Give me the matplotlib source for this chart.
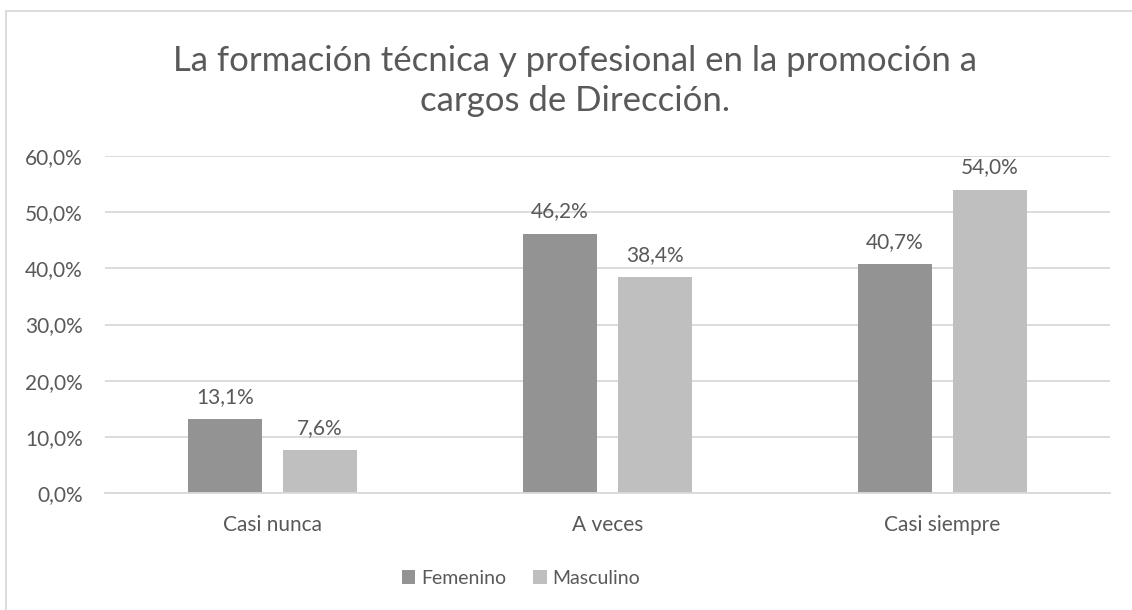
import matplotlib
matplotlib.use("Agg")
import matplotlib.pyplot as plt
from matplotlib.patches import Rectangle
import numpy as np

categories = ["Casi nunca", "A veces", "Casi siempre"]
femenino = [13.1, 46.2, 40.7]
masculino = [7.6, 38.4, 54.0]
yticks = [0, 10, 20, 30, 40, 50, 60]
title = "La formación técnica y profesional en la promoción a\ncargos de Dirección."

plt.rcParams['font.family'] = ['Lato', 'DejaVu Sans']
TXT = '#595959'
C_F = '#939393'
C_M = '#bfbfbf'
GRID = '#d9d9d9'

W, H = 1132, 610
fig = plt.figure(figsize=(W/100, H/100), dpi=100)
ax = fig.add_axes([105/W, 1-493/H, 1005/W, (493-156)/H])

x = np.arange(len(categories))
bw = 0.223
off = bw/2 + 0.03
b1 = ax.bar(x - off, femenino, bw, color=C_F, label="Femenino", zorder=3)
b2 = ax.bar(x + off, masculino, bw, color=C_M, label="Masculino", zorder=3)

for bars, vals in ((b1, femenino), (b2, masculino)):
    for r, v in zip(bars, vals):
        ax.annotate(f"{v:.1f}%".replace('.', ','), (r.get_x()+r.get_width()/2, v),
                    xytext=(0, 9), textcoords='offset points', ha='center', va='bottom',
                    fontsize=15, color=TXT)

ax.set_xlim(-0.5, len(categories)-0.5)
ax.set_ylim(0, 60)
ax.set_yticks(yticks)
ax.set_yticklabels([f"{t:.1f}%".replace('.', ',') for t in yticks], fontsize=15, color=TXT)
ax.set_xticks(x)
ax.set_xticklabels(categories, fontsize=15, color=TXT)
ax.tick_params(axis='both', length=0)
ax.tick_params(axis='y', pad=16)
ax.tick_params(axis='x', pad=16)
ax.yaxis.grid(True, color=GRID, linewidth=1.3, zorder=0)
for s in ['top', 'right', 'left']:
    ax.spines[s].set_visible(False)
ax.spines['bottom'].set_color(GRID)
ax.spines['bottom'].set_linewidth(1.3)
ax.spines['bottom'].set_zorder(4)

fig.text(575/W, 1-81/H, title, ha='center', va='center', fontsize=25, color=TXT, linespacing=1.32)

leg = fig.legend(handles=[b1, b2], loc='center', bbox_to_anchor=(521/W, 1-578/H), ncol=2,
                 frameon=False, fontsize=14, handlelength=0.7, handleheight=0.7,
                 handletextpad=0.3, columnspacing=1.4)
for t in leg.get_texts():
    t.set_color(TXT)

fig.patches.append(Rectangle((6/W, -0.1), 1.2, 1.1 - 11/H, transform=fig.transFigure,
                             fill=False, edgecolor='#d9d9d9', linewidth=1.3))

fig.savefig("out.png", dpi=100)
